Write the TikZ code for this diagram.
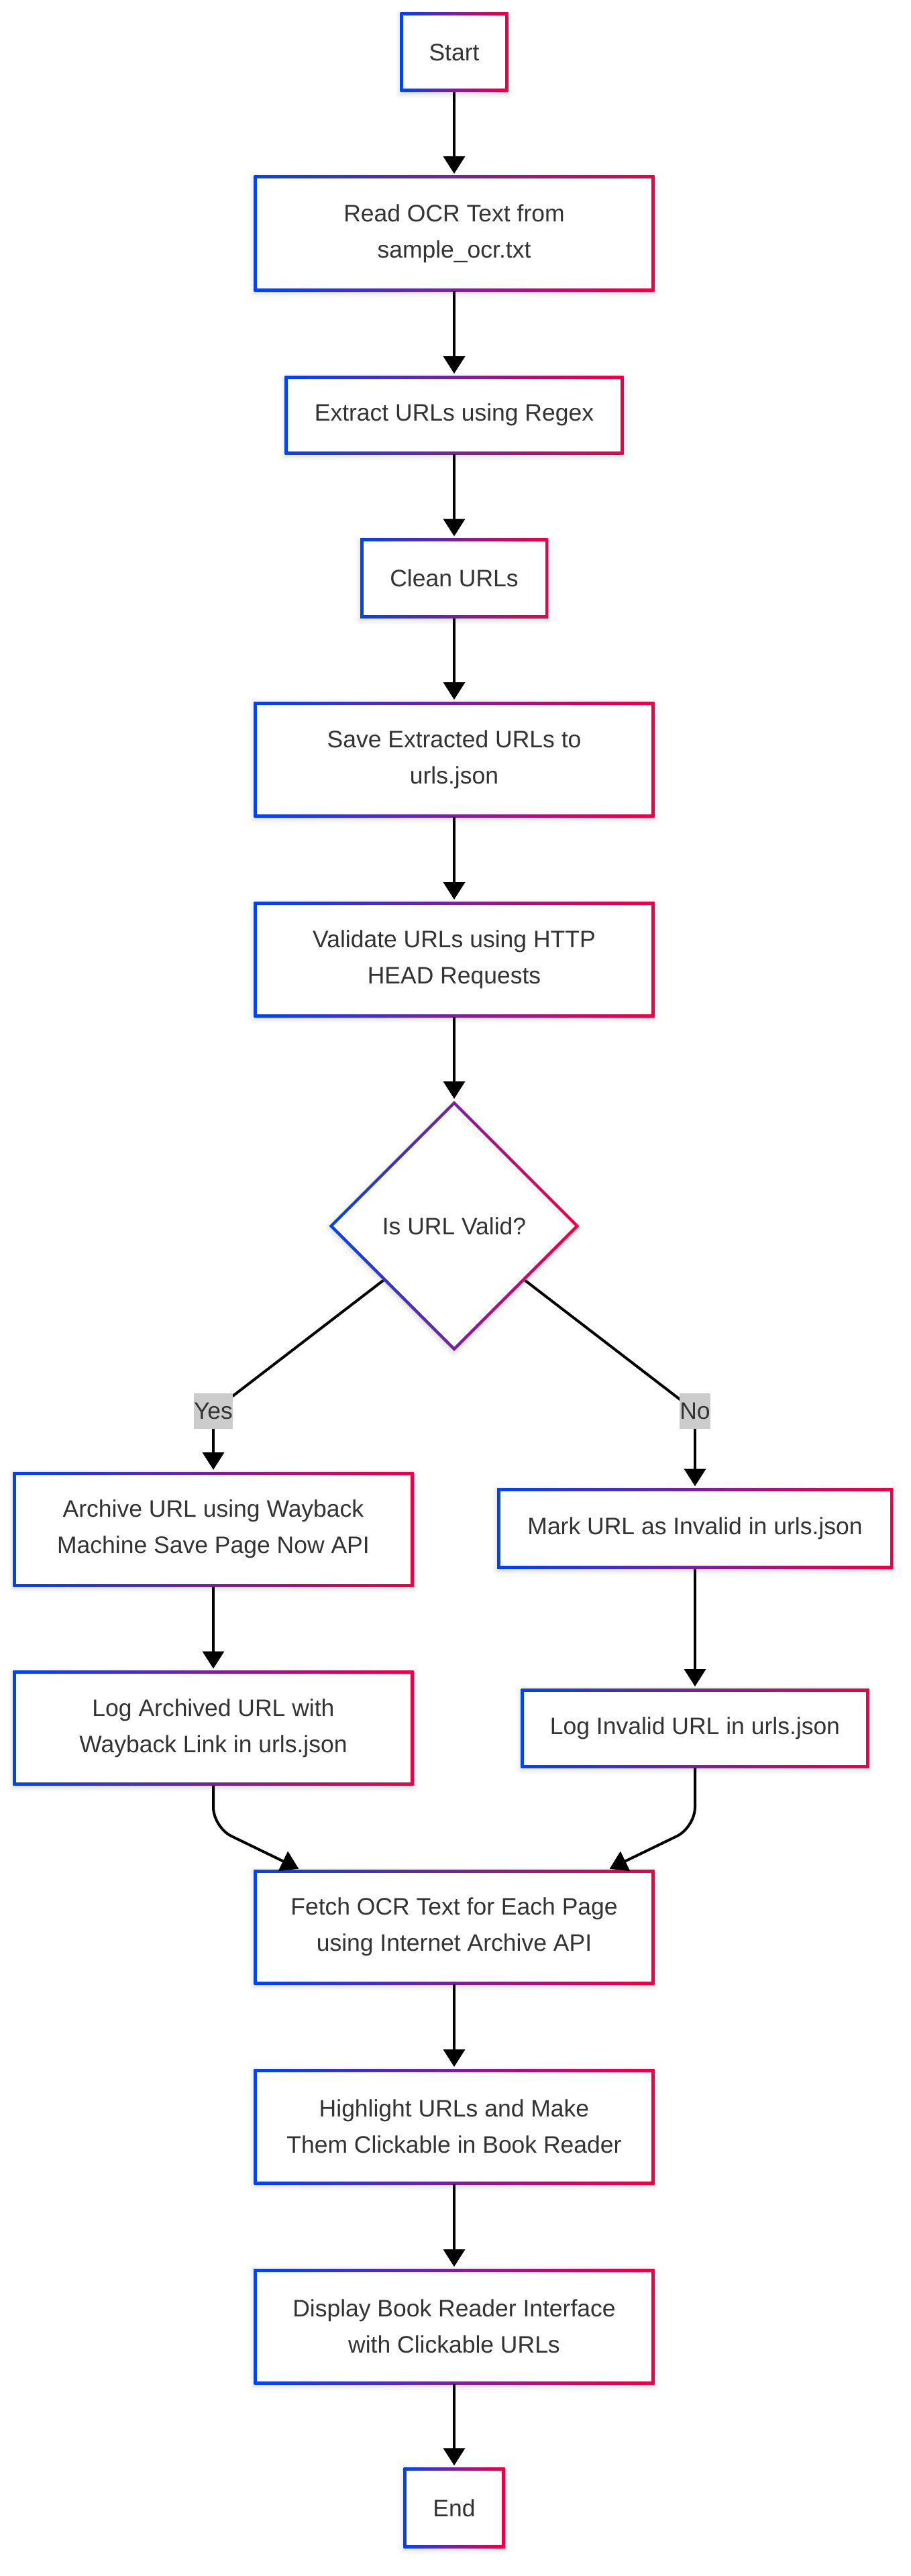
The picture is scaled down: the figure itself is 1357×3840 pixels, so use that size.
\documentclass[tikz,border=0pt]{standalone}
\usepackage{fontspec}
\setmainfont{Liberation Sans}
\usetikzlibrary{arrows.meta,shapes.geometric,calc,shadows.blur,backgrounds}
\definecolor{gblue}{HTML}{0044EE}
\definecolor{gred}{HTML}{EE0044}
\definecolor{textgray}{HTML}{333333}
\definecolor{labelgray}{HTML}{CCCCCC}
\newcommand\nodefont{\fontsize{35.5}{54}\selectfont}
\tikzset{
  softshadow/.style={blur shadow={shadow xshift=0pt, shadow yshift=-3pt, shadow blur radius=7pt, shadow opacity=18}},
  gbox/.style={rectangle, inner sep=0pt, outer sep=0pt, align=center, font=\nodefont, text=textgray,
    fill=white, softshadow,
    path picture={
      \shade[left color=gblue, right color=gred] (path picture bounding box.south west) rectangle (path picture bounding box.north east);
      \fill[white] ([xshift=4.5pt,yshift=4.5pt]path picture bounding box.south west) rectangle ([xshift=-4.5pt,yshift=-4.5pt]path picture bounding box.north east);
    }},
  gdiamond/.style={diamond, aspect=1, inner sep=0pt, outer sep=0pt, align=center, font=\nodefont, text=textgray,
    fill=white, softshadow,
    path picture={
      \shade[left color=gblue, right color=gred] (path picture bounding box.south west) rectangle (path picture bounding box.north east);
      \fill[white] ([yshift=-6.4pt]path picture bounding box.north) -- ([xshift=-6.4pt]path picture bounding box.east) -- ([yshift=6.4pt]path picture bounding box.south) -- ([xshift=6.4pt]path picture bounding box.west) -- cycle;
    }},
  wh/.style 2 args={minimum width=#1pt, minimum height=#2pt},
  conn/.style={draw=black, line width=4pt, -{Triangle[width=32pt,length=26pt]}, shorten >=3pt},
  plainline/.style={draw=black, line width=4pt},
  elabel/.style={rectangle, fill=labelgray, inner xsep=0pt, inner ysep=0pt, minimum height=53pt, font=\nodefont, text=textgray}
}
\begin{document}
\begin{tikzpicture}[x=1pt,y=-1pt]
\useasboundingbox (0,0) rectangle (1357,3840);

\node[gbox, wh={161}{118}] (start) at (677,78) {Start};
\node[gbox, wh={597}{172}] (read) at (677,348) {Read OCR Text from\\sample\_ocr.txt};
\node[gbox, wh={505}{117}] (extract) at (677,618.5) {Extract URLs using Regex};
\node[gbox, wh={280}{119}] (clean) at (677,862) {Clean URLs};
\node[gbox, wh={597}{172}] (save) at (677,1132) {Save Extracted URLs to\\urls.json};
\node[gbox, wh={597}{172}] (validate) at (677,1430) {Validate URLs using HTTP\\HEAD Requests};
\node[gdiamond, minimum width=373pt, minimum height=373pt] (dia) at (677,1827.5) {Is URL Valid?};
\node[gbox, wh={597}{171}] (archive) at (318,2279.5) {Archive URL using Wayback\\Machine Save Page Now API};
\node[gbox, wh={590}{120}] (mark) at (1036,2278.5) {Mark URL as Invalid in urls.json};
\node[gbox, wh={597}{171}] (logarch) at (318,2576) {Log Archived URL with\\Wayback Link in urls.json};
\node[gbox, wh={519}{118}] (loginv) at (1036,2576) {Log Invalid URL in urls.json};
\node[gbox, wh={597}{171}] (fetch) at (677,2872.5) {Fetch OCR Text for Each Page\\using Internet Archive API};
\node[gbox, wh={597}{172}] (highlight) at (677,3170) {Highlight URLs and Make\\Them Clickable in Book Reader};
\node[gbox, wh={597}{172}] (display) at (677,3468) {Display Book Reader Interface\\with Clickable URLs};
\node[gbox, wh={151}{120}] (endn) at (677,3738.3) {End};

\draw[conn] (start) -- (read);
\draw[conn] (read) -- (extract);
\draw[conn] (extract) -- (clean);
\draw[conn] (clean) -- (save);
\draw[conn] (save) -- (validate);
\draw[conn] (validate) -- (dia);

\node[elabel] (yes) at (318,2103.3) {Yes};
\node[elabel] (no) at (1036,2103.3) {No};
\begin{scope}[on background layer]
\draw[plainline] (dia) -- (yes.center);
\draw[plainline] (dia) -- (no.center);
\end{scope}
\draw[conn] (yes) -- (archive);
\draw[conn] (no) -- (mark);

\draw[conn] (archive) -- (logarch);
\draw[conn] (mark) -- (loginv);

\coordinate (lbend) at (318,2724);
\coordinate (rbend) at (1036,2724);
\coordinate (lin) at (448,2787);
\coordinate (rin) at (906,2787);
\draw[conn, rounded corners=30pt] (logarch) -- (lbend) -- (lin);
\draw[conn, rounded corners=30pt] (loginv) -- (rbend) -- (rin);

\draw[conn] (fetch) -- (highlight);
\draw[conn] (highlight) -- (display);
\draw[conn] (display) -- (endn);
\end{tikzpicture}
\end{document}
